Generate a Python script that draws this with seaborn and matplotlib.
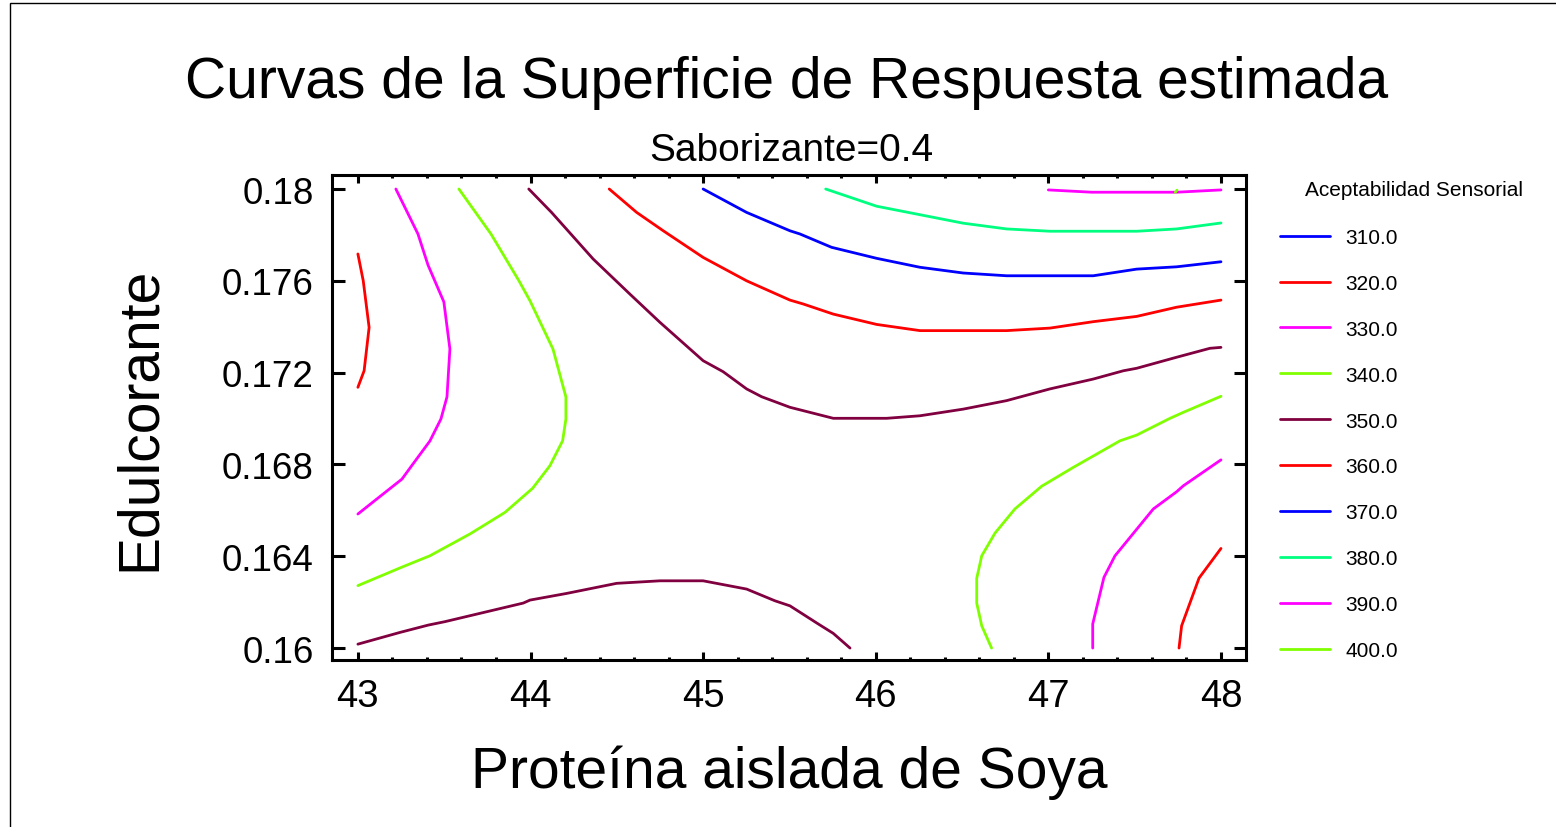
import numpy as np
import pandas as pd
import matplotlib
matplotlib.use("Agg")
import matplotlib.pyplot as plt
import seaborn as sns
from matplotlib.lines import Line2D
from matplotlib.patches import Rectangle
from matplotlib.ticker import MultipleLocator

# ---------------- data (contour polylines) ----------------
levels = [310.0, 320.0, 330.0, 340.0, 350.0, 360.0, 370.0, 380.0, 390.0, 400.0]
level_colors = ["#0000FF", "#FF0000", "#FF00FF", "#80FF00", "#800040",
                "#FF0000", "#0000FF", "#00FF80", "#FF00FF", "#80FF00"]

c320_left_x = [43.0, 43.031, 43.065, 43.036, 43.0]
c320_left_y = [0.17717, 0.17600, 0.17397, 0.17208, 0.17136]

c330_left_x = [43.220, 43.348, 43.406, 43.498, 43.533, 43.516, 43.481, 43.417,
               43.319, 43.255, 43.087, 43.0]
c330_left_y = [0.18, 0.17804, 0.17669, 0.17508, 0.17303, 0.17094, 0.16998, 0.16902,
               0.16802, 0.16736, 0.16636, 0.16584]

c340_left_x = [43.585, 43.771, 43.933, 43.997, 44.130, 44.205, 44.205, 44.186,
               44.112, 44.012, 43.852, 43.649, 43.417, 43.253, 43.0]
c340_left_y = [0.18, 0.17804, 0.17600, 0.17513, 0.17303, 0.17094, 0.16998, 0.16903,
               0.16794, 0.16696, 0.16591, 0.16497, 0.16402, 0.16352, 0.16272]

c350_upper_x = [43.99, 44.122, 44.363, 44.576, 44.750, 45.0, 45.116, 45.252, 45.339,
                45.503, 45.754, 46.063, 46.256, 46.507, 46.758, 47.009, 47.260,
                47.434, 47.512, 47.743, 47.936, 48.0]
c350_upper_y = [0.18, 0.17898, 0.17695, 0.17542, 0.17419, 0.17252, 0.17204, 0.17129,
                0.17095, 0.17049, 0.17001, 0.17001, 0.17012, 0.17041, 0.17078,
                0.17129, 0.17172, 0.17208, 0.17219, 0.17267, 0.17306, 0.17310]

c350_lower_x = [43.0, 43.243, 43.407, 43.504, 43.958, 43.997, 44.209, 44.499, 44.750,
                45.0, 45.252, 45.416, 45.503, 45.667, 45.754, 45.851]
c350_lower_y = [0.16017, 0.16068, 0.16100, 0.16115, 0.16196, 0.16209, 0.16238,
                0.16282, 0.16293, 0.16293, 0.16257, 0.16206, 0.16184, 0.16105,
                0.16064, 0.16]

c360_x = [44.456, 44.615, 44.769, 45.0, 45.252, 45.503, 45.580, 45.754, 46.005,
          46.256, 46.507, 46.758, 47.009, 47.260, 47.512, 47.743, 48.0]
c360_y = [0.18, 0.17898, 0.17818, 0.17702, 0.17600, 0.17516, 0.17499, 0.17455,
          0.17410, 0.17383, 0.17383, 0.17383, 0.17394, 0.17422, 0.17445, 0.17485,
          0.17516]

c370_x = [45.0, 45.252, 45.503, 45.561, 45.744, 46.005, 46.256, 46.507, 46.758,
          47.260, 47.512, 47.743, 48.0]
c370_y = [0.18, 0.17898, 0.17818, 0.17804, 0.17746, 0.17698, 0.17659, 0.17634,
          0.17622, 0.17622, 0.17651, 0.17661, 0.17683]

c380_x = [45.710, 46.005, 46.256, 46.507, 46.758, 47.009, 47.512, 47.743, 48.0]
c380_y = [0.18, 0.17925, 0.17888, 0.17851, 0.17826, 0.17816, 0.17816, 0.17826,
          0.17852]

c390_top_x = [47.0, 47.251, 47.512, 47.743, 48.0]
c390_top_y = [0.17996, 0.17986, 0.17986, 0.17986, 0.17996]

c400_top_x = [47.735, 47.745]
c400_top_y = [0.17985, 0.17995]

c340_right_x = [48.0, 47.782, 47.705, 47.512, 47.415, 47.144, 46.961, 46.806, 46.691,
                46.614, 46.585, 46.585, 46.614, 46.671]
c340_right_y = [0.17097, 0.17027, 0.17001, 0.16928, 0.16903, 0.16787, 0.16705,
                0.16606, 0.16501, 0.16402, 0.16304, 0.16196, 0.16097, 0.16]

c330_right_x = [48.0, 47.782, 47.743, 47.608, 47.386, 47.322, 47.257, 47.257]
c330_right_y = [0.16820, 0.16707, 0.16681, 0.16606, 0.16402, 0.16308, 0.16105, 0.16]

c320_right_x = [48.0, 47.873, 47.772, 47.757]
c320_right_y = [0.16434, 0.16305, 0.16097, 0.16]

x_ticks = [43, 44, 45, 46, 47, 48]
y_ticks = [0.16, 0.164, 0.168, 0.172, 0.176, 0.18]
y_tick_labels = ["0.16", "0.164", "0.168", "0.172", "0.176", "0.18"]

segments = [
    ("320_left", 320.0, c320_left_x, c320_left_y),
    ("330_left", 330.0, c330_left_x, c330_left_y),
    ("340_left", 340.0, c340_left_x, c340_left_y),
    ("350_upper", 350.0, c350_upper_x, c350_upper_y),
    ("350_lower", 350.0, c350_lower_x, c350_lower_y),
    ("360", 360.0, c360_x, c360_y),
    ("370", 370.0, c370_x, c370_y),
    ("380", 380.0, c380_x, c380_y),
    ("390_top", 390.0, c390_top_x, c390_top_y),
    ("400_top", 400.0, c400_top_x, c400_top_y),
    ("340_right", 340.0, c340_right_x, c340_right_y),
    ("330_right", 330.0, c330_right_x, c330_right_y),
    ("320_right", 320.0, c320_right_x, c320_right_y),
]

rows = []
for name, lvl, xs, ys in segments:
    for i, (xv, yv) in enumerate(zip(xs, ys)):
        rows.append({"seg": name, "level": lvl, "order": i, "x": xv, "y": yv})
df = pd.DataFrame(rows)

palette = {lvl: col for lvl, col in zip(levels, level_colors)}

# ---------------- figure ----------------
sns.set_theme(style="white")
plt.rcParams["font.family"] = ["Liberation Sans", "DejaVu Sans"]
plt.rcParams["text.color"] = "black"
plt.rcParams["axes.labelcolor"] = "black"
plt.rcParams["xtick.color"] = "black"
plt.rcParams["ytick.color"] = "black"

fig = plt.figure(figsize=(15.56, 8.28), dpi=100)
ax = fig.add_axes([332 / 1556, 1 - 661 / 828, (1246 - 332) / 1556, (661 - 176) / 828])

sns.lineplot(data=df, x="x", y="y", hue="level", units="seg", estimator=None,
             sort=False, palette=palette, legend=False, linewidth=2.0, ax=ax)

ax.set_xlim(42.85, 48.145)
ax.set_ylim(0.15948, 0.18061)
ax.set_xticks(x_ticks)
ax.set_xticklabels([str(t) for t in x_ticks])
ax.set_yticks(y_ticks)
ax.set_yticklabels(y_tick_labels)
ax.xaxis.set_minor_locator(MultipleLocator(0.2))

for s in ax.spines.values():
    s.set_visible(True)
    s.set_color("black")
    s.set_linewidth(2.2)

ax.tick_params(axis="x", which="major", direction="in", top=True, bottom=True,
               length=6, width=2.2, labelsize=27.5, pad=13, colors="black")
ax.tick_params(axis="x", which="minor", direction="in", top=True, bottom=True,
               length=2.5, width=2.2)
ax.tick_params(axis="y", which="major", direction="in", left=True, right=True,
               length=9, width=2.2, labelsize=26.5, pad=13, colors="black")

ax.set_xlabel("Proteína aislada de Soya", fontsize=41, labelpad=22, color="black")
ax.set_ylabel("Edulcorante", fontsize=41, labelpad=40, color="black")

fig.text(787 / 1556, 1 - 83 / 828, "Curvas de la Superficie de Respuesta estimada",
         ha="center", va="center", fontsize=41, color="black")
fig.text(791 / 1556, 1 - 151 / 828, "Saborizante=0.4", ha="center", va="center",
         fontsize=28, color="black")

# legend
fig.text(1305 / 1556, 1 - 190 / 828, "Aceptabilidad Sensorial", ha="left",
         va="center", fontsize=15, color="black")
handles = [Line2D([0], [0], color=c, lw=2.0) for c in level_colors]
labels = [f"{v:.1f}" for v in levels]
leg = ax.legend(handles, labels, loc="upper left",
                bbox_to_anchor=(1280 / 1556, 1 - 229 / 828),
                bbox_transform=fig.transFigure, frameon=False, fontsize=15,
                handlelength=2.4, handletextpad=0.75, labelspacing=1.29,
                borderpad=0, borderaxespad=0)
for t in leg.get_texts():
    t.set_color("black")

# outer border of the picture
fig.patches.append(Rectangle((10 / 1556, -0.2), 2.0, 1.2 - 4 / 828,
                             transform=fig.transFigure, fill=False,
                             edgecolor="black", linewidth=1.0))

fig.savefig("out.png", dpi=100)
